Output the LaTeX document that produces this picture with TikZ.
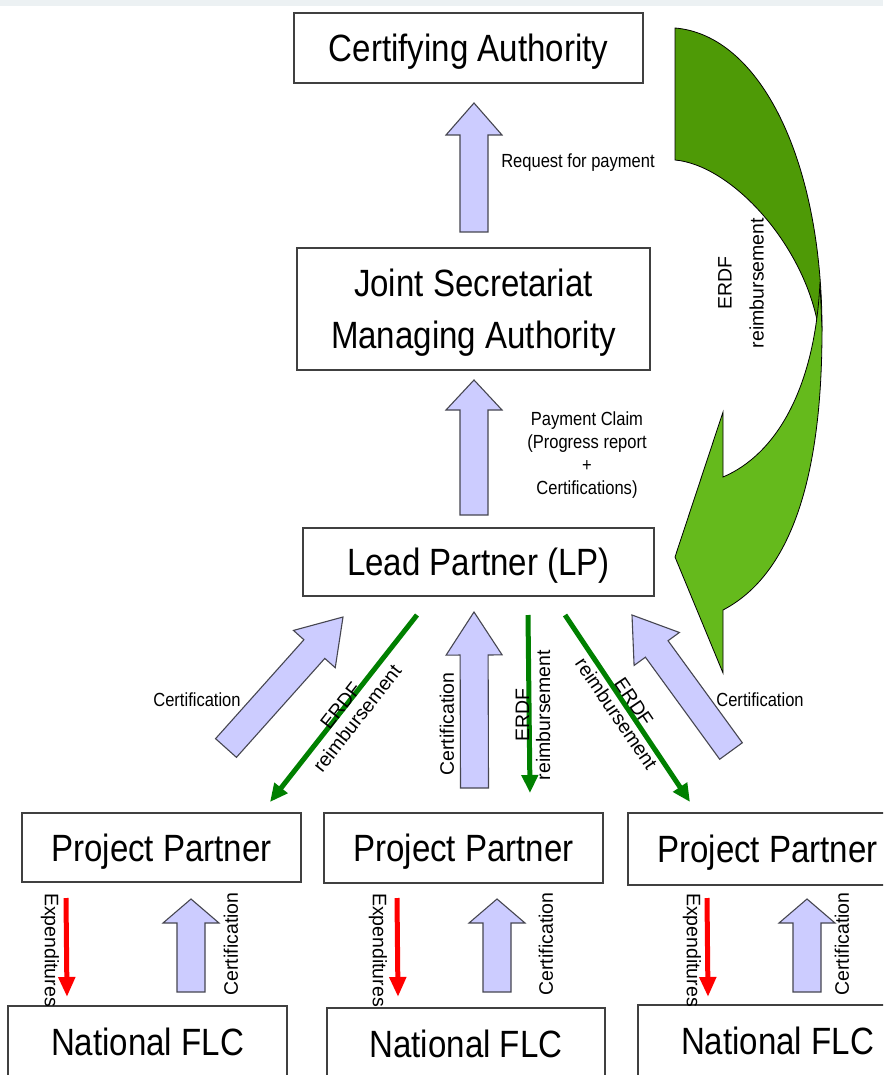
\documentclass[tikz,border=0pt]{standalone}
\usepackage{fontspec}
\setmainfont{Liberation Sans}[FakeStretch=0.87]
\newfontfamily\upfont{Liberation Sans}
\usetikzlibrary{arrows.meta,calc}

\definecolor{lav}{RGB}{204,204,255}
\definecolor{lavline}{RGB}{70,70,80}
\definecolor{erdf}{RGB}{0,128,0}
\definecolor{darkleaf}{RGB}{78,154,6}
\definecolor{lightleaf}{RGB}{101,186,28}
\definecolor{topband}{RGB}{236,241,243}

\tikzset{
  box/.style={draw=black!75, line width=1.6pt, fill=white, inner sep=0pt},
  bigtxt/.style={font=\fontsize{38}{52}\selectfont, align=center, text depth=0pt},
  smalltxt/.style={font=\fontsize{19}{23}\selectfont, align=center},
  uptxt/.style={font=\upfont\fontsize{19.5}{21}\selectfont, align=center},
  blockarr/.style={fill=lav, draw=lavline, line width=1.1pt, line join=miter},
  erdfarr/.style={erdf, line width=5pt, -{Triangle[length=18pt,width=16pt]}},
  exparr/.style={red, line width=5pt, -{Triangle[length=20pt,width=16pt]}},
}

% block arrow from tail to tip, optional head length
\newcommand{\blockarrow}[3][32]{%
  \coordinate (hb) at ($(#3)!#1pt!(#2)$);
  \draw[blockarr] ($(#2)!14pt!90:(#3)$) -- ($(hb)!14pt!90:(#3)$) -- ($(hb)!28pt!90:(#3)$) -- (#3)
    -- ($(hb)!28pt!-90:(#3)$) -- ($(hb)!14pt!-90:(#3)$) -- ($(#2)!14pt!-90:(#3)$) -- cycle;
}

\begin{document}
\begin{tikzpicture}[x=1pt, y=-1pt]
  \clip (0,0) rectangle (883,1075);
  \fill[white] (0,0) rectangle (883,1075);
  \fill[topband] (0,0) rectangle (883,6);

  \node[box, bigtxt, minimum width=349pt, minimum height=70pt] (ca) at (468.5,48) {Certifying Authority};
  \node[box, bigtxt, minimum width=353pt, minimum height=122pt] (js) at (473.5,309) {Joint Secretariat\\Managing Authority};
  \node[box, bigtxt, minimum width=351pt, minimum height=68pt] (lp) at (478.5,562) {Lead Partner (LP)};

  \node[box, bigtxt, minimum width=279pt, minimum height=69pt] (pp1) at (161.5,847.5) {Project Partner};
  \node[box, bigtxt, minimum width=279pt, minimum height=70pt] (pp2) at (463.5,848) {Project Partner};
  \node[box, bigtxt, minimum width=279pt, minimum height=72pt] (pp3) at (767.5,849) {Project Partner};

  \node[box, bigtxt, minimum width=279pt, minimum height=72pt] (flc1) at (147.5,1042) {National FLC};
  \node[box, bigtxt, minimum width=278pt, minimum height=72pt] (flc2) at (466,1044) {National FLC};
  \node[box, bigtxt, minimum width=279pt, minimum height=72pt] (flc3) at (777.5,1041) {National FLC};

  % big green return arrow
  \draw[fill=darkleaf, line width=0.8pt] (675,28) .. controls (760,35) and (822,160) .. (822,330)
    -- (817,320) .. controls (800,240) and (730,165) .. (675,160) -- cycle;
  \draw[fill=lightleaf, line width=0.8pt] (723,477) .. controls (775,455) and (815,390) .. (820,282)
    -- (822,330) .. controls (822,480) and (790,575) .. (723,610)
    -- (723,673) -- (675,557) -- (723,412) -- cycle;
  \node[uptxt, font=\upfont\fontsize{19.5}{32}\selectfont, rotate=90] (bigerdf) at (741,283) {ERDF\\reimbursement};

  \coordinate (ca in) at (474,103);
  \coordinate (js out) at (474,232);
  \coordinate (js in) at (474,380);
  \coordinate (lp out) at (474,515);
  \blockarrow{js out}{ca in}
  \blockarrow[30]{lp out}{js in}
  \node[smalltxt] (reqlbl) at (578,163) {Request for payment};
  \node[smalltxt] (claimlbl) at (587,455) {Payment Claim\\(Progress report\\+\\Certifications)};

  \coordinate (lp in1) at (343,617);
  \coordinate (lp in2) at (474,612);
  \coordinate (lp in3) at (632,615);
  \coordinate (pp1 out) at (226,748);
  \coordinate (pp2 out) at (474.5,788);
  \coordinate (pp3 out) at (731,751);
  \blockarrow[43]{pp1 out}{lp in1}
  \blockarrow[43]{pp2 out}{lp in2}
  \blockarrow[42]{pp3 out}{lp in3}
  \node[smalltxt] (cert1) at (197,700) {Certification};
  \node[uptxt, rotate=90] (cert2) at (447,724) {Certification};
  \node[smalltxt] (cert3) at (760,700) {Certification};

  \coordinate (lp o1) at (417,615);
  \coordinate (lp o2) at (528,615);
  \coordinate (lp o3) at (565,615);
  \coordinate (pp1 in) at (270,802);
  \coordinate (pp2 in) at (530,793);
  \coordinate (pp3 in) at (690,802);
  \draw[erdfarr] (lp o1) -- (pp1 in);
  \draw[erdfarr] (lp o2) -- (pp2 in);
  \draw[erdfarr] (lp o3) -- (pp3 in);
  \node[uptxt, rotate=52] (erdf1) at (349,712) {ERDF\\reimbursement};
  \node[uptxt, rotate=90] (erdf2) at (533,715) {ERDF\\reimbursement};
  \node[uptxt, rotate=-56] (erdf3) at (625,708) {ERDF\\reimbursement};

  \foreach \i/\rx/\cx/\ex/\kx in {1/66/191/50/231, 2/397/497/378/546, 3/707/807/692/842} {
    \coordinate (pp\i ex) at (\rx,898);
    \coordinate (flc\i ex) at (\rx+1,997);
    \coordinate (flc\i ce) at (\cx,992);
    \coordinate (pp\i ce) at (\cx,899);
    \draw[exparr] (pp\i ex) -- (flc\i ex);
    \blockarrow[24]{flc\i ce}{pp\i ce}
    \node[uptxt, rotate=-90] (exp\i) at (\ex,950) {Expenditures};
    \node[uptxt, rotate=90] (fcert\i) at (\kx,944) {Certification};
  }
\end{tikzpicture}
\end{document}
